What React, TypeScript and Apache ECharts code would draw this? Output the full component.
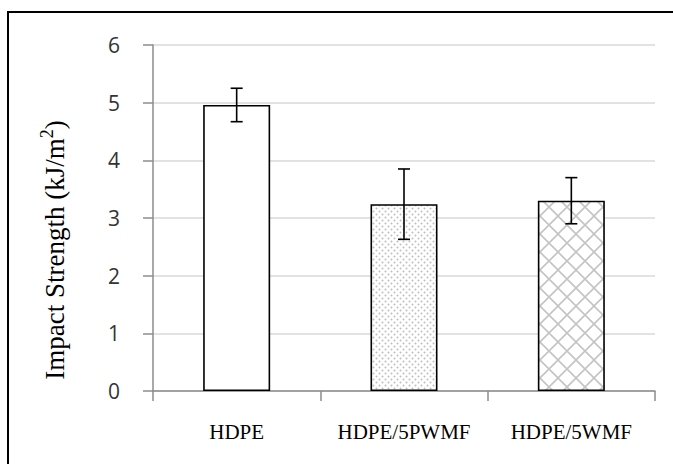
import React, { useEffect, useRef } from "react";
import * as echarts from "echarts";

const categories = ["HDPE", "HDPE/5PWMF", "HDPE/5WMF"];
const values = [4.96, 3.24, 3.3];
const errors = [0.29, 0.61, 0.4];
const yTicks = [0, 1, 2, 3, 4, 5, 6];

function dotPattern(): HTMLCanvasElement {
  const c = document.createElement("canvas");
  c.width = 6;
  c.height = 6;
  const ctx = c.getContext("2d")!;
  ctx.fillStyle = "#ffffff";
  ctx.fillRect(0, 0, 6, 6);
  ctx.fillStyle = "#bdbdbd";
  ctx.beginPath();
  ctx.arc(1.5, 1.5, 1, 0, Math.PI * 2);
  ctx.fill();
  ctx.beginPath();
  ctx.arc(4.5, 4.5, 1, 0, Math.PI * 2);
  ctx.fill();
  return c;
}

function crossPattern(): HTMLCanvasElement {
  const s = 18;
  const c = document.createElement("canvas");
  c.width = s;
  c.height = s;
  const ctx = c.getContext("2d")!;
  ctx.fillStyle = "#ffffff";
  ctx.fillRect(0, 0, s, s);
  ctx.strokeStyle = "#c4c4c4";
  ctx.lineWidth = 1.6;
  ctx.beginPath();
  ctx.moveTo(-2, -2);
  ctx.lineTo(s + 2, s + 2);
  ctx.moveTo(s + 2, -2);
  ctx.lineTo(-2, s + 2);
  ctx.stroke();
  return c;
}

export default function App() {
  const ref = useRef<HTMLDivElement>(null);
  useEffect(() => {
    document.body.style.margin = "0";
    const chart = echarts.init(ref.current!, null, { renderer: "svg" });
    const fills: any[] = [
      "#ffffff",
      { image: dotPattern(), repeat: "repeat" },
      { image: crossPattern(), repeat: "repeat" },
    ];
    chart.setOption({
      animation: false,
      backgroundColor: "#ffffff",
      graphic: [
        {
          type: "rect",
          shape: { x: 8, y: 12, width: 800, height: 600 },
          style: { fill: "none", stroke: "#000", lineWidth: 2 },
          silent: true,
          z: 100,
        },
        {
          type: "text",
          x: 53,
          y: 250,
          rotation: Math.PI / 2,
          silent: true,
          style: {
            text: "{n|Impact Strength (kJ/m}{sup|2}{n|)}",
            align: "center",
            verticalAlign: "middle",
            fill: "#000",
            fontFamily: "Liberation Serif",
            fontSize: 27,
            rich: {
              n: { fontFamily: "Liberation Serif", fontSize: 27, fill: "#000", verticalAlign: "bottom", lineHeight: 30 },
              sup: {
                fontFamily: "Liberation Serif",
                fontSize: 18,
                fill: "#000",
                verticalAlign: "bottom",
                padding: [0, 0, 12, 0],
                lineHeight: 30,
              },
            },
          },
        },
      ],
      grid: { left: 153, right: 18, top: 45, bottom: 73 },
      xAxis: {
        type: "category",
        data: categories,
        axisLine: { lineStyle: { color: "#8c8c8c", width: 1.5 } },
        axisTick: { show: true, length: 10, lineStyle: { color: "#8c8c8c", width: 1.5 } },
        axisLabel: {
          interval: 0,
          hideOverlap: false,
          margin: 30,
          fontFamily: "Liberation Serif",
          fontSize: 21,
          color: "#000",
        },
      },
      yAxis: {
        type: "value",
        min: yTicks[0],
        max: yTicks[yTicks.length - 1],
        interval: 1,
        axisLine: { show: true, lineStyle: { color: "#8c8c8c", width: 1.5 } },
        axisTick: { show: true, length: 10, lineStyle: { color: "#8c8c8c", width: 1.5 } },
        axisLabel: {
          margin: 33,
          fontFamily: "Open Sans",
          fontSize: 21,
          color: "#333",
        },
        splitLine: { lineStyle: { color: "#d9d9d9", width: 1.5 } },
      },
      series: [
        {
          type: "bar",
          barWidth: 67,
          data: values.map((v, i) => ({
            value: v,
            itemStyle: { color: fills[i], borderColor: "#000", borderWidth: 1.6 },
          })),
          z: 2,
        },
        {
          type: "custom",
          z: 5,
          data: values.map((v, i) => [i, v - errors[i], v + errors[i]]),
          renderItem: (params: any, api: any) => {
            const x = api.value(0);
            const lo = api.coord([x, api.value(1)]);
            const hi = api.coord([x, api.value(2)]);
            const hw = 6;
            const style = { stroke: "#000", lineWidth: 1.6 };
            return {
              type: "group",
              children: [
                { type: "line", shape: { x1: lo[0], y1: lo[1], x2: hi[0], y2: hi[1] }, style },
                { type: "line", shape: { x1: hi[0] - hw, y1: hi[1], x2: hi[0] + hw, y2: hi[1] }, style },
                { type: "line", shape: { x1: lo[0] - hw, y1: lo[1], x2: lo[0] + hw, y2: lo[1] }, style },
              ],
            };
          },
        },
      ],
    });
    return () => chart.dispose();
  }, []);
  return <div ref={ref} style={{ width: 673, height: 464 }} />;
}
